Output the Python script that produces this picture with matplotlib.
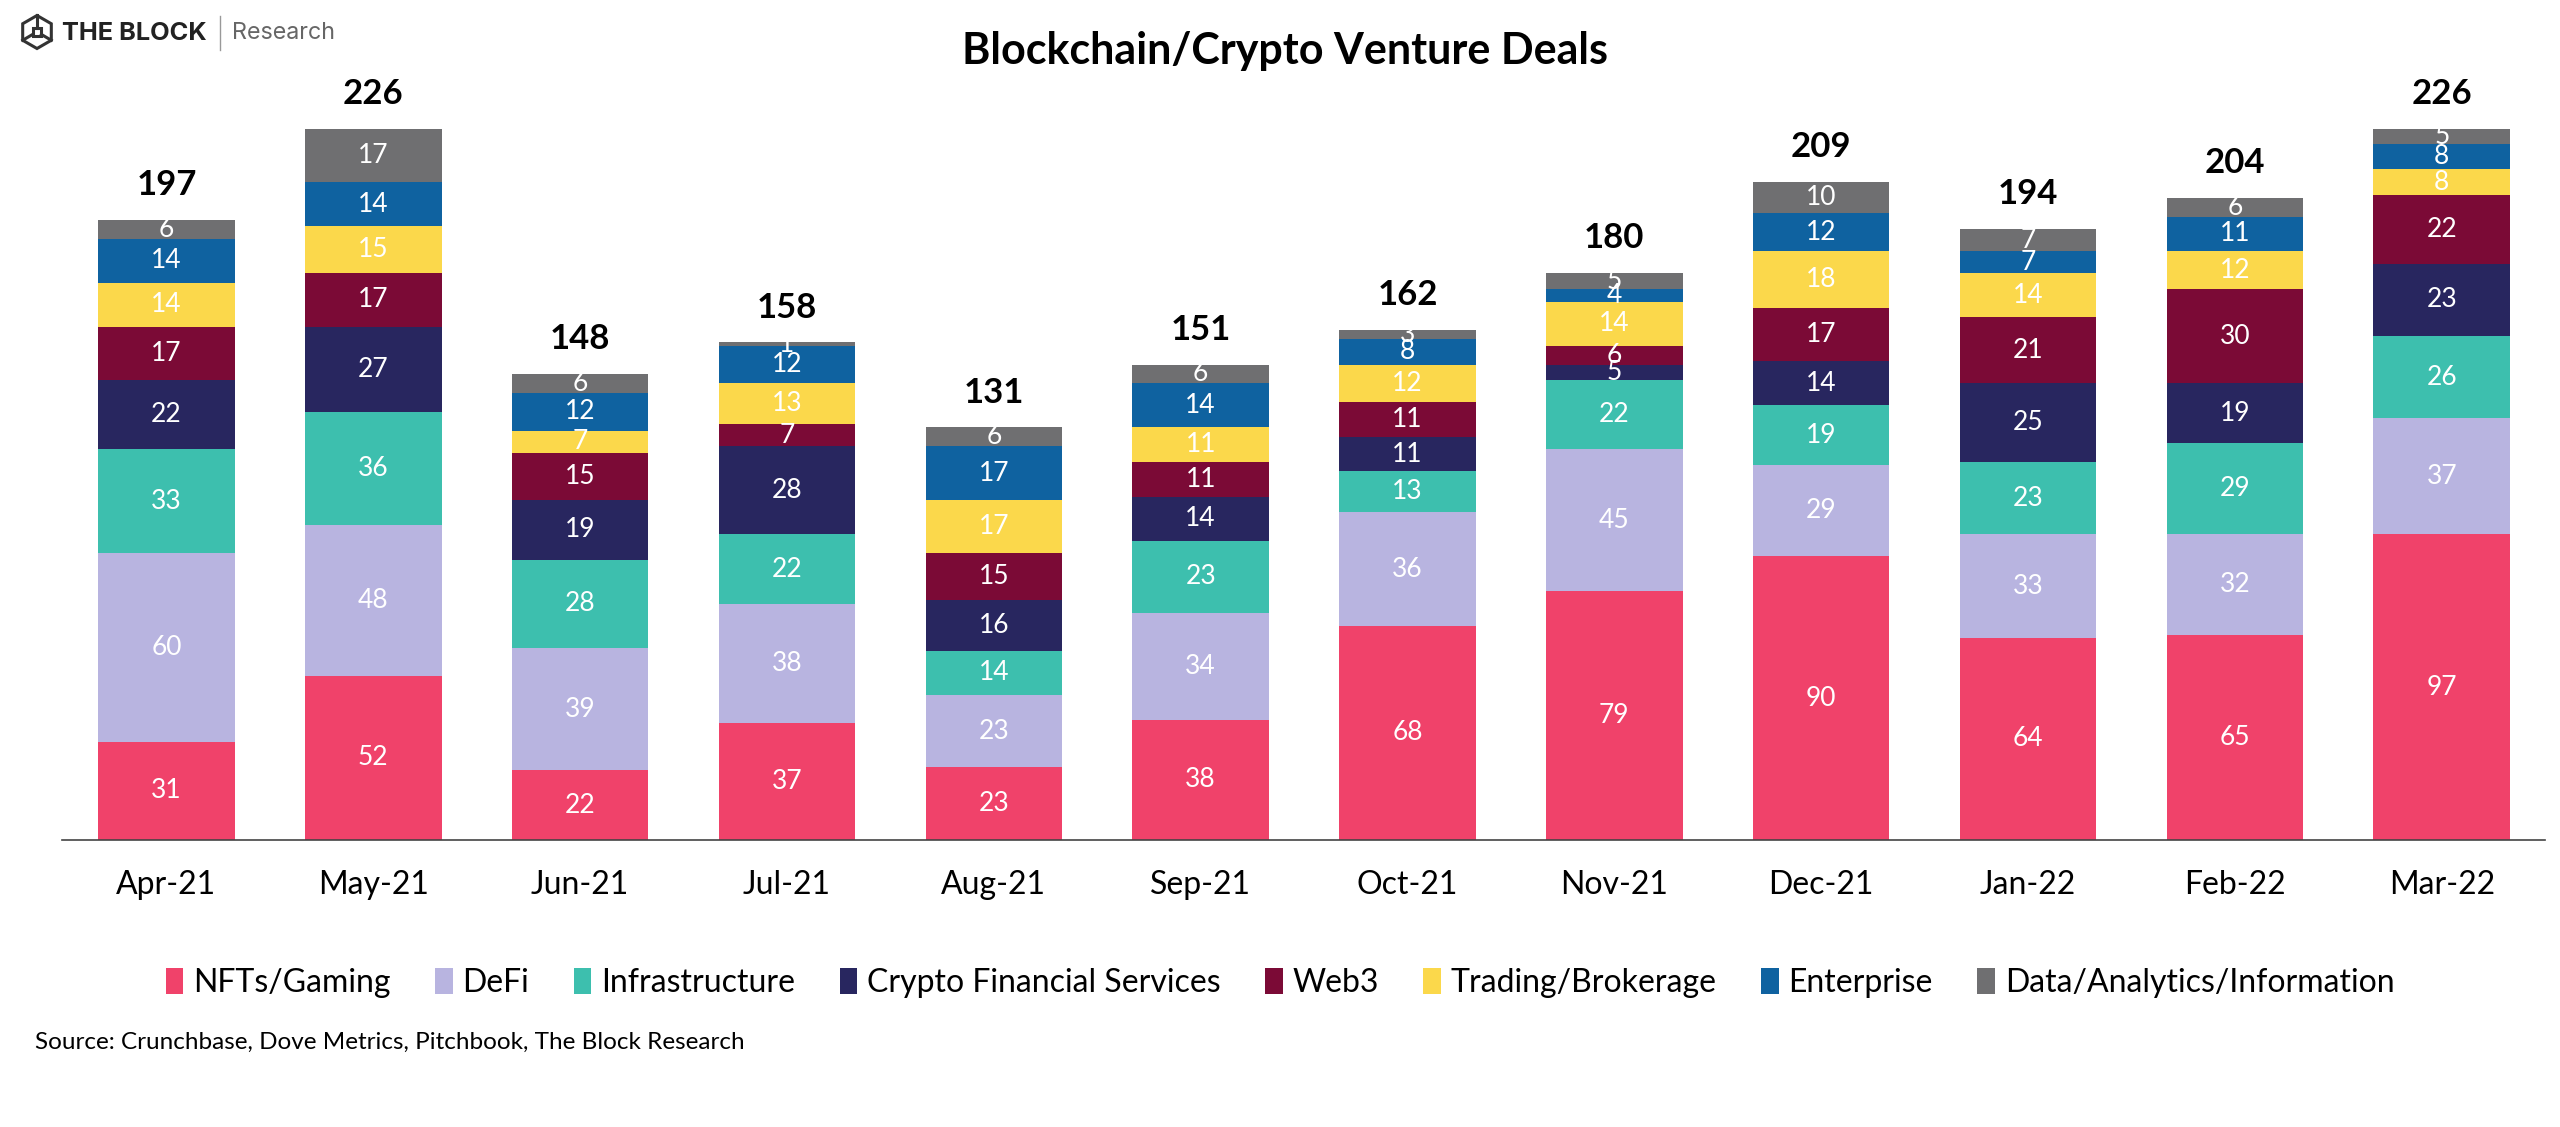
import matplotlib
matplotlib.use("Agg")
import matplotlib.pyplot as plt
import numpy as np
from matplotlib.patches import RegularPolygon
from matplotlib.lines import Line2D

plt.rcParams['font.family'] = ['Lato', 'DejaVu Sans']

months = ["Apr-21", "May-21", "Jun-21", "Jul-21", "Aug-21", "Sep-21",
          "Oct-21", "Nov-21", "Dec-21", "Jan-22", "Feb-22", "Mar-22"]
categories = ["NFTs/Gaming", "DeFi", "Infrastructure", "Crypto Financial Services",
              "Web3", "Trading/Brokerage", "Enterprise", "Data/Analytics/Information"]

nfts_gaming = [31, 52, 22, 37, 23, 38, 68, 79, 90, 64, 65, 97]
defi = [60, 48, 39, 38, 23, 34, 36, 45, 29, 33, 32, 37]
infrastructure = [33, 36, 28, 22, 14, 23, 13, 22, 19, 23, 29, 26]
crypto_fin_services = [22, 27, 19, 28, 16, 14, 11, 5, 14, 25, 19, 23]
web3 = [17, 17, 15, 7, 15, 11, 11, 6, 17, 21, 30, 22]
trading_brokerage = [14, 15, 7, 13, 17, 11, 12, 14, 18, 14, 12, 8]
enterprise = [14, 14, 12, 12, 17, 14, 8, 4, 12, 7, 11, 8]
data_analytics = [6, 17, 6, 1, 6, 6, 3, 5, 10, 7, 6, 5]

series = [nfts_gaming, defi, infrastructure, crypto_fin_services,
          web3, trading_brokerage, enterprise, data_analytics]
colors = ["#F0426A", "#B8B4E0", "#3DBFAE", "#28265F",
          "#7B0A36", "#FBD84B", "#0F62A0", "#6F6F71"]

W, H = 2560, 1127
fig = plt.figure(figsize=(W / 100, H / 100), dpi=100)
ax = fig.add_axes([0.0242, 0.255, 0.97, 0.66])

x = np.arange(len(months))
bottom = np.zeros(len(months))
for name, vals, c in zip(categories, series, colors):
    vals = np.array(vals, dtype=float)
    ax.bar(x, vals, width=0.66, bottom=bottom, color=c, label=name, linewidth=0)
    for xi, b, v in zip(x, bottom, vals):
        ax.text(xi, b + v / 2, f"{int(v)}", ha="center", va="center",
                color="white", fontsize=19)
    bottom += vals

totals = bottom
for xi, t in zip(x, totals):
    ax.text(xi, t + 6, f"{int(t)}", ha="center", va="bottom",
            fontsize=25, fontweight="bold", color="black")

ax.set_xlim(-0.505, 11.5)
ax.set_ylim(0, 236.4)
ax.set_xticks(x)
ax.set_xticklabels(months, fontsize=23)
ax.tick_params(axis="x", length=0, pad=22)
ax.set_yticks([])
for s in ["top", "right", "left"]:
    ax.spines[s].set_visible(False)
ax.spines["bottom"].set_color("#444444")
ax.spines["bottom"].set_linewidth(1.2)

fig.text(0.502, 0.955, "Blockchain/Crypto Venture Deals", ha="center", va="center",
         fontsize=31, fontweight="bold")

fig.legend(*ax.get_legend_handles_labels(), loc="center", ncol=8,
           bbox_to_anchor=(0.5, 0.128), frameon=False, fontsize=23,
           handlelength=0.55, handleheight=0.9, handletextpad=0.3,
           columnspacing=1.4)

fig.text(0.0135, 0.075, "Source: Crunchbase, Dove Metrics, Pitchbook, The Block Research",
         ha="left", va="center", fontsize=17.5)

# logo
lax = fig.add_axes([18 / W, 1 - 52 / H, 38 / W, 40 / H])
lax.set_xlim(-1.15, 1.15); lax.set_ylim(-1.15, 1.15); lax.set_aspect("equal"); lax.axis("off")
lax.add_patch(RegularPolygon((0, 0), 6, radius=1.0, orientation=0, fill=False,
                             edgecolor="#333333", linewidth=2.2))
lax.add_patch(RegularPolygon((0, 0), 4, radius=0.38, orientation=np.pi / 4, fill=False,
                             edgecolor="#333333", linewidth=2.2))
for (x0, y0), (x1, y1) in [((0, 1.0), (0, 0.27)), ((-0.866, -0.5), (-0.27, -0.15)),
                           ((0.866, -0.5), (0.27, -0.15))]:
    lax.plot([x0, x1], [y0, y1], color="#333333", linewidth=2.2)
ty = 1 - 33 / H
fig.text(62 / W, ty, "THE BLOCK", ha="left", va="center", fontsize=18.3,
         fontweight="bold", color="#222222", family=["Inter", "DejaVu Sans"])
fig.add_artist(Line2D([220 / W, 220 / W], [1 - 50 / H, 1 - 16 / H], color="#999999", linewidth=1))
fig.text(232 / W, ty, "Research", ha="left", va="center", fontsize=16.8,
         color="#666666", family=["Inter", "DejaVu Sans"])

fig.savefig("out.png", dpi=100)
